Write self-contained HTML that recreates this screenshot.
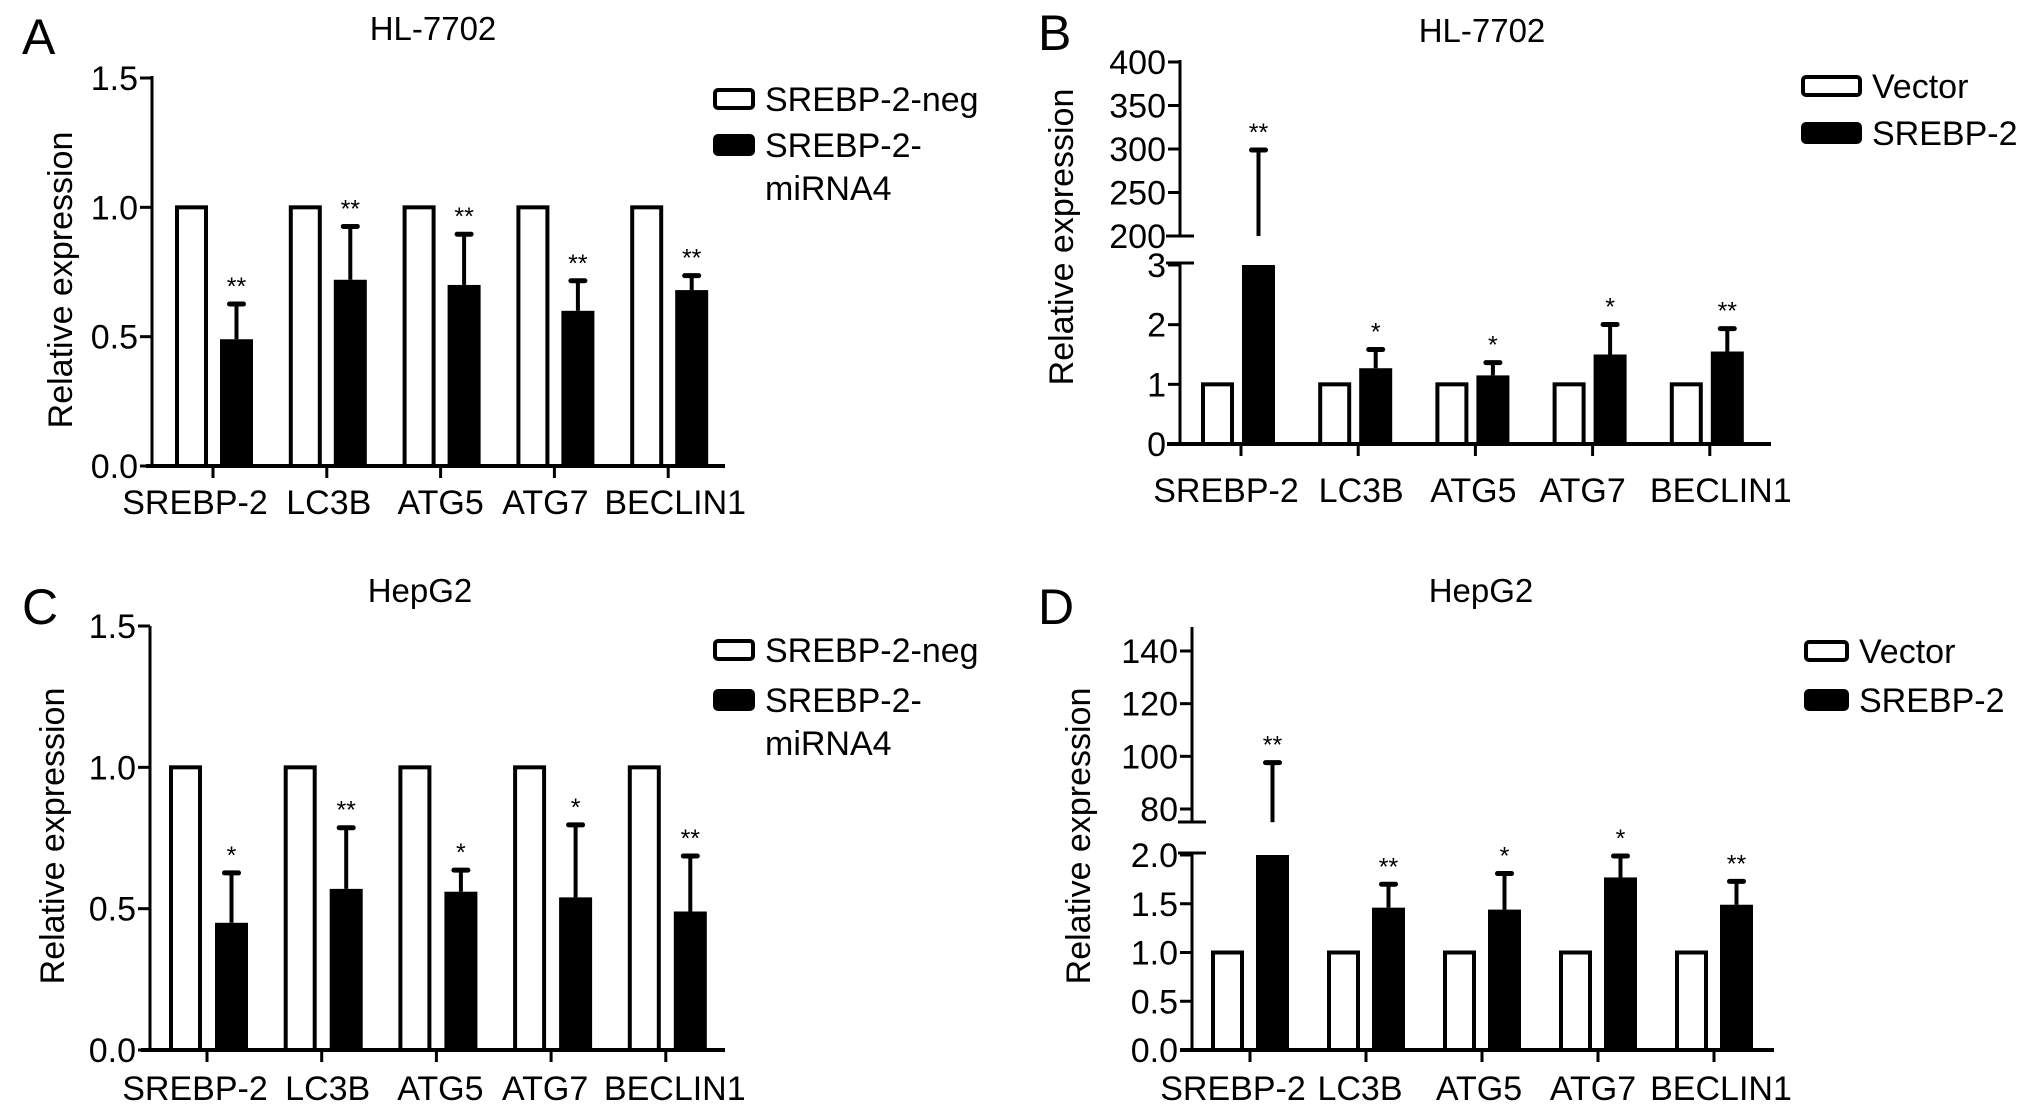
<!DOCTYPE html>
<html><head><meta charset="utf-8">
<style>
html,body{margin:0;padding:0;background:#fff;}
svg{display:block;font-family:"Liberation Sans",Arial,sans-serif;}
</style></head>
<body>
<svg id="fig" width="2032" height="1110" viewBox="0 0 2032 1110" xmlns="http://www.w3.org/2000/svg"></svg>
<script>
// ---------- data ----------
const categories = ["SREBP-2","LC3B","ATG5","ATG7","BECLIN1"];
// Panel A (HL-7702 knockdown)
const aControl = [1,1,1,1,1];
const aTreated = [0.49,0.72,0.70,0.60,0.68];
const aError   = [0.63,0.93,0.90,0.72,0.74];
const aStars   = ["**","**","**","**","**"];
const aTicks   = [0.0,0.5,1.0,1.5];
const aTickLabels = ["0.0","0.5","1.0","1.5"];
// Panel B (HL-7702 overexpression)
const bControl = [1,1,1,1,1];
const bTreated = [200,1.27,1.15,1.50,1.55];
const bError   = [300,1.60,1.38,2.02,1.95];
const bStars   = ["**","*","*","*","**"];
const bLowTicks = [0,1,2,3];
const bLowTickLabels = ["0","1","2","3"];
const bHighTicks = [200,250,300,350,400];
const bHighTickLabels = ["200","250","300","350","400"];
// Panel C (HepG2 knockdown)
const cControl = [1,1,1,1,1];
const cTreated = [0.45,0.57,0.56,0.54,0.49];
const cError   = [0.63,0.79,0.64,0.80,0.69];
const cStars   = ["*","**","*","*","**"];
const cTicks   = [0.0,0.5,1.0,1.5];
const cTickLabels = ["0.0","0.5","1.0","1.5"];
// Panel D (HepG2 overexpression)
const dControl = [1,1,1,1,1];
const dTreated = [75,1.46,1.44,1.77,1.49];
const dError   = [98,1.71,1.82,2.00,1.74];
const dStars   = ["**","**","*","*","**"];
const dLowTicks = [0,0.5,1.0,1.5,2.0];
const dLowTickLabels = ["0.0","0.5","1.0","1.5","2.0"];
const dHighTicks = [80,100,120,140];
const dHighTickLabels = ["80","100","120","140"];

const NS="http://www.w3.org/2000/svg";
const svg=document.getElementById('fig');
const FS=34;
function el(tag,attrs,parent){const e=document.createElementNS(NS,tag);for(const k in attrs)e.setAttribute(k,attrs[k]);(parent||svg).appendChild(e);return e;}
function txt(s,attrs,parent){const e=el('text',attrs,parent);e.textContent=s;return e;}

function panel(cfg){
  const g=el('g',{});
  
  
  const L=txt(cfg.letter,{x:cfg.letterX,y:cfg.letterY,'font-size':50},g);
  
  
  const T=txt(cfg.title,{x:cfg.titleX,y:cfg.titleY,'font-size':33,'text-anchor':'middle'},g);
  
  
  const Y=txt("Relative expression",{x:0,y:0,'font-size':FS,'text-anchor':'middle',transform:`translate(${cfg.ylabX},${cfg.ylabY}) rotate(-90)`},g);
  
  
  const ax=cfg.axisX;
  cfg.segments.forEach(s=>{
    const ln=el('line',{x1:ax,x2:ax,y1:s.top,y2:s.bottom,stroke:'#000','stroke-width':3},g);
    
    
    s.ticks.forEach((t,i)=>{
      const y=s.scale(t);
      el('line',{x1:ax-12,x2:ax,y1:y,y2:y,stroke:'#000','stroke-width':3},g);
      const tl=txt(s.labels[i],{x:ax-14,y:y+12,'font-size':FS,'text-anchor':'end'},g);
      
      
    });
    if(s.breakTop) el('line',{x1:ax-14,x2:ax+14,y1:s.top,y2:s.top,stroke:'#000','stroke-width':3},g);
    if(s.breakBottom) el('line',{x1:ax-14,x2:ax+14,y1:s.bottom,y2:s.bottom,stroke:'#000','stroke-width':3},g);
  });
  const low=cfg.segments[0];
  const y0=low.scale(0);
  const xa=el('line',{x1:cfg.xStart,x2:cfg.xEnd,y1:y0,y2:y0,stroke:'#000','stroke-width':4},g);
  
  
  function xpos(i){return cfg.tick0+i*cfg.tickStep;}
  function yval(v){
    if(cfg.segments.length>1 && v>cfg.segments[0].max){return cfg.segments[1].scale(v);}
    return low.scale(v);
  }
  categories.forEach((c,i)=>{
    const x=xpos(i);
    el('line',{x1:x,x2:x,y1:y0,y2:y0+12,stroke:'#000','stroke-width':3},g);
    const xl=txt(c,{x:x+cfg.nudge[i],y:cfg.xlabY,'font-size':FS,'text-anchor':'middle'},g);
    
    
    const cy=yval(cfg.control[i]);
    const wb=el('rect',{x:x+cfg.wOff+2,y:cy,width:cfg.barW-4,height:y0-cy,fill:'#fff',stroke:'#000','stroke-width':4},g);
    
    
    const bx=x+cfg.bOff;
    const bc=bx+cfg.barW/2;
    let tv=cfg.treated[i];
    let topY = tv>low.max ? low.scale(low.max) : low.scale(tv);
    const bb=el('rect',{x:bx,y:topY,width:cfg.barW,height:y0-topY,fill:'#000'},g);
    
    
    let eStart, eEnd=yval(cfg.err[i]);
    if(tv>low.max){eStart=cfg.segments[1].scale(tv);} else {eStart=topY;}
    const eb=el('line',{x1:bc,x2:bc,y1:eStart,y2:eEnd,stroke:'#000','stroke-width':4},g);
    
    
    el('line',{x1:bc-7,x2:bc+7,y1:eEnd+1,y2:eEnd+1,stroke:'#000','stroke-width':5,'stroke-linecap':'round'},g);
    const st=txt(cfg.stars[i],{x:bc,y:eEnd-8,'font-size':25,'text-anchor':'middle'},g);
    
    
  });
  cfg.legend.forEach((lg,k)=>{
    const r=el('rect',{x:cfg.legX+2,y:lg.y+2,width:cfg.legW-4,height:18,rx:3,fill:k===0?'#fff':'#000',stroke:'#000','stroke-width':4},g);
    
    
    lg.lines.forEach((s,j)=>{
      const t=txt(s,{x:cfg.legX+cfg.legW+10,y:lg.y+23+j*43,'font-size':FS},g);
      
      
    });
  });
}
function lin(v0,y0,v1,y1){return v=>y0+(v-v0)*(y1-y0)/(v1-v0);}

panel({name:'panel-a',letter:'A',letterX:22,letterY:54,title:'HL-7702',titleX:433,titleY:40,ylabX:72,ylabY:280,
  axisX:152,segments:[{top:76,bottom:466,max:1.5,scale:lin(0,466,1.5,78),ticks:aTicks,labels:aTickLabels}],
  xStart:146,xEnd:725,tick0:213,tickStep:113.8,wOff:-38,bOff:7,barW:33,xlabY:514,nudge:[-18,2,0,-9,7],
  control:aControl,treated:aTreated,err:aError,stars:aStars,
  legX:713,legW:42,legend:[{y:88,lines:['SREBP-2-neg']},{y:134,lines:['SREBP-2-','miRNA4']}]});

panel({name:'panel-b',letter:'B',letterX:1038,letterY:50,title:'HL-7702',titleX:1482,titleY:42,ylabX:1073,ylabY:237,
  axisX:1180,segments:[
    {top:263,bottom:444,max:3,scale:lin(0,444,3,265),ticks:bLowTicks,labels:bLowTickLabels,breakTop:true},
    {top:60,bottom:236,max:400,scale:lin(200,236,400,62),ticks:bHighTicks,labels:bHighTickLabels,breakBottom:true}],
  xStart:1167,xEnd:1771,tick0:1241,tickStep:117.2,wOff:-40,bOff:1,barW:33,xlabY:502,nudge:[-15,3,-2,-10,11],
  control:bControl,treated:bTreated,err:bError,stars:bStars,
  legX:1801,legW:61,legend:[{y:75,lines:['Vector']},{y:122,lines:['SREBP-2']}]});

panel({name:'panel-c',letter:'C',letterX:22,letterY:624,title:'HepG2',titleX:420,titleY:602,ylabX:64,ylabY:836,
  axisX:150,segments:[{top:626,bottom:1050,max:1.5,scale:lin(0,1050,1.5,626),ticks:cTicks,labels:cTickLabels}],
  xStart:141,xEnd:725,tick0:207,tickStep:114.7,wOff:-38,bOff:8,barW:33,xlabY:1100,nudge:[-12,6,4,-6,9],
  control:cControl,treated:cTreated,err:cError,stars:cStars,
  legX:713,legW:42,legend:[{y:639,lines:['SREBP-2-neg']},{y:689,lines:['SREBP-2-','miRNA4']}]});

panel({name:'panel-d',letter:'D',letterX:1038,letterY:624,title:'HepG2',titleX:1481,titleY:602,ylabX:1090,ylabY:836,
  axisX:1192,segments:[
    {top:853,bottom:1050,max:2,scale:lin(0,1050,2,855),ticks:dLowTicks,labels:dLowTickLabels,breakTop:true},
    {top:627,bottom:822,max:150,scale:lin(80,809,140,651),ticks:dHighTicks,labels:dHighTickLabels,breakBottom:true}],
  xStart:1180,xEnd:1774,tick0:1250,tickStep:116,wOff:-39,bOff:6,barW:33,xlabY:1100,nudge:[-17,-6,-3,-5,7],
  control:dControl,treated:dTreated,err:dError,stars:dStars,
  legX:1804,legW:45,legend:[{y:640,lines:['Vector']},{y:689,lines:['SREBP-2']}]});
</script>
</body></html>
